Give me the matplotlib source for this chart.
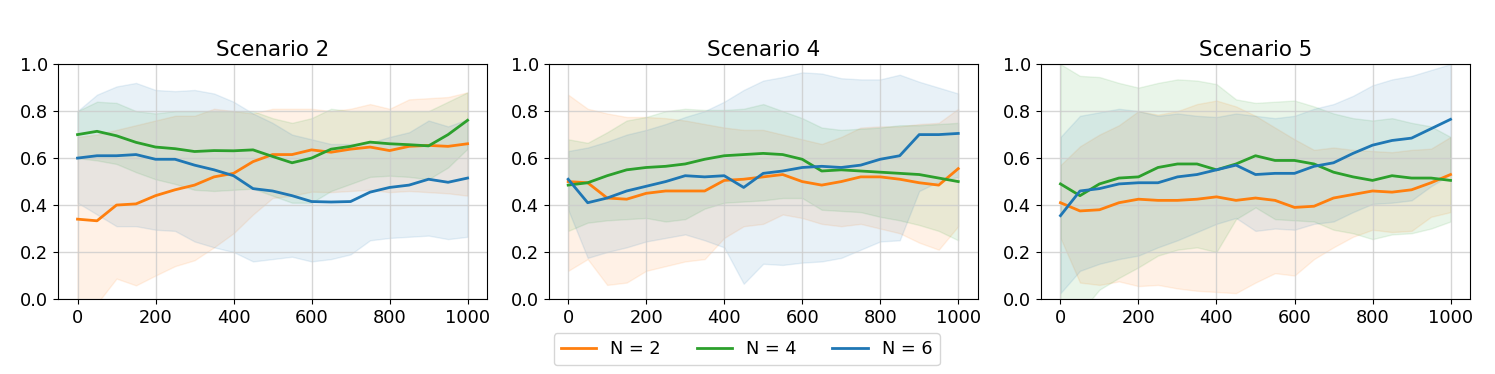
import matplotlib
matplotlib.use("Agg")
import matplotlib.pyplot as plt

steps = list(range(0, 1001, 50))

scenarios = ["Scenario 2", "Scenario 4", "Scenario 5"]
labels = ["N = 2", "N = 4", "N = 6"]
colors = ["#ff7f0e", "#2ca02c", "#1f77b4"]

# Scenario 2
s2_n2_mean = [0.34, 0.333, 0.40, 0.405, 0.44, 0.465, 0.485, 0.52, 0.535, 0.585, 0.615, 0.615, 0.635, 0.625, 0.638, 0.647, 0.632, 0.65, 0.654, 0.65, 0.661]
s2_n2_hi = [0.69, 0.70, 0.72, 0.74, 0.76, 0.78, 0.78, 0.81, 0.80, 0.79, 0.81, 0.81, 0.81, 0.80, 0.81, 0.83, 0.81, 0.85, 0.855, 0.86, 0.88]
s2_n2_lo = [-0.15, -0.02, 0.087, 0.058, 0.10, 0.14, 0.165, 0.22, 0.28, 0.36, 0.43, 0.44, 0.457, 0.455, 0.46, 0.465, 0.455, 0.46, 0.455, 0.45, 0.44]
s2_n4_mean = [0.70, 0.714, 0.695, 0.667, 0.647, 0.64, 0.628, 0.632, 0.631, 0.635, 0.607, 0.58, 0.60, 0.638, 0.65, 0.668, 0.661, 0.657, 0.652, 0.70, 0.761]
s2_n4_hi = [0.80, 0.84, 0.835, 0.80, 0.79, 0.80, 0.80, 0.80, 0.80, 0.80, 0.77, 0.75, 0.77, 0.81, 0.80, 0.80, 0.80, 0.80, 0.80, 0.84, 0.88]
s2_n4_lo = [0.60, 0.59, 0.575, 0.54, 0.51, 0.49, 0.465, 0.46, 0.465, 0.47, 0.44, 0.41, 0.41, 0.46, 0.49, 0.52, 0.525, 0.52, 0.51, 0.56, 0.64]
s2_n6_mean = [0.60, 0.61, 0.61, 0.615, 0.595, 0.595, 0.57, 0.55, 0.525, 0.47, 0.46, 0.44, 0.415, 0.413, 0.415, 0.455, 0.475, 0.485, 0.51, 0.497, 0.515]
s2_n6_hi = [0.80, 0.87, 0.905, 0.92, 0.89, 0.885, 0.89, 0.875, 0.84, 0.79, 0.75, 0.70, 0.68, 0.66, 0.66, 0.665, 0.69, 0.71, 0.76, 0.735, 0.765]
s2_n6_lo = [0.41, 0.36, 0.31, 0.31, 0.295, 0.29, 0.245, 0.22, 0.20, 0.16, 0.17, 0.18, 0.16, 0.17, 0.19, 0.25, 0.26, 0.265, 0.27, 0.255, 0.265]

# Scenario 4
s4_n2_mean = [0.50, 0.495, 0.43, 0.425, 0.45, 0.46, 0.46, 0.46, 0.505, 0.51, 0.52, 0.53, 0.50, 0.485, 0.50, 0.52, 0.52, 0.51, 0.495, 0.485, 0.555]
s4_n2_hi = [0.87, 0.81, 0.79, 0.775, 0.775, 0.77, 0.76, 0.745, 0.73, 0.72, 0.72, 0.70, 0.68, 0.66, 0.69, 0.73, 0.735, 0.735, 0.745, 0.75, 0.81]
s4_n2_lo = [0.12, 0.17, 0.06, 0.07, 0.12, 0.14, 0.16, 0.17, 0.26, 0.31, 0.32, 0.36, 0.345, 0.32, 0.31, 0.32, 0.30, 0.28, 0.24, 0.21, 0.31]
s4_n4_mean = [0.485, 0.495, 0.525, 0.55, 0.56, 0.565, 0.575, 0.595, 0.61, 0.615, 0.62, 0.615, 0.595, 0.545, 0.55, 0.545, 0.54, 0.535, 0.53, 0.515, 0.50]
s4_n4_hi = [0.68, 0.665, 0.71, 0.76, 0.775, 0.80, 0.81, 0.805, 0.805, 0.81, 0.83, 0.80, 0.77, 0.73, 0.72, 0.725, 0.73, 0.74, 0.74, 0.745, 0.75]
s4_n4_lo = [0.29, 0.325, 0.335, 0.34, 0.345, 0.33, 0.34, 0.385, 0.41, 0.415, 0.42, 0.43, 0.43, 0.38, 0.375, 0.37, 0.35, 0.335, 0.315, 0.29, 0.25]
s4_n6_mean = [0.51, 0.41, 0.43, 0.46, 0.48, 0.50, 0.525, 0.52, 0.525, 0.475, 0.535, 0.545, 0.56, 0.565, 0.56, 0.57, 0.595, 0.61, 0.70, 0.70, 0.705]
s4_n6_hi = [0.63, 0.645, 0.67, 0.70, 0.72, 0.745, 0.775, 0.80, 0.84, 0.89, 0.93, 0.945, 0.965, 0.96, 0.94, 0.935, 0.935, 0.955, 0.925, 0.90, 0.875]
s4_n6_lo = [0.38, 0.175, 0.20, 0.22, 0.245, 0.26, 0.275, 0.25, 0.22, 0.065, 0.15, 0.145, 0.155, 0.16, 0.175, 0.21, 0.245, 0.25, 0.46, 0.50, 0.52]

# Scenario 5
s5_n2_mean = [0.41, 0.375, 0.38, 0.41, 0.425, 0.42, 0.42, 0.425, 0.435, 0.42, 0.43, 0.42, 0.39, 0.395, 0.43, 0.445, 0.46, 0.455, 0.465, 0.495, 0.53]
s5_n2_hi = [0.57, 0.65, 0.70, 0.74, 0.80, 0.785, 0.80, 0.83, 0.845, 0.82, 0.78, 0.73, 0.68, 0.635, 0.645, 0.635, 0.63, 0.625, 0.635, 0.64, 0.69]
s5_n2_lo = [0.26, 0.07, 0.06, 0.075, 0.055, 0.06, 0.045, 0.035, 0.03, 0.025, 0.07, 0.11, 0.10, 0.17, 0.22, 0.265, 0.295, 0.285, 0.29, 0.35, 0.37]
s5_n4_mean = [0.49, 0.44, 0.49, 0.515, 0.52, 0.56, 0.575, 0.575, 0.55, 0.575, 0.61, 0.59, 0.59, 0.575, 0.54, 0.52, 0.505, 0.525, 0.515, 0.515, 0.505]
s5_n4_hi = [1.0, 0.95, 0.945, 0.92, 0.90, 0.92, 0.935, 0.93, 0.915, 0.85, 0.835, 0.84, 0.845, 0.82, 0.79, 0.77, 0.76, 0.77, 0.75, 0.735, 0.69]
s5_n4_lo = [-0.02, -0.06, 0.04, 0.09, 0.135, 0.185, 0.21, 0.22, 0.20, 0.34, 0.39, 0.34, 0.335, 0.33, 0.295, 0.28, 0.255, 0.275, 0.28, 0.30, 0.33]
s5_n6_mean = [0.355, 0.46, 0.47, 0.49, 0.495, 0.495, 0.52, 0.53, 0.55, 0.57, 0.53, 0.535, 0.535, 0.565, 0.58, 0.62, 0.655, 0.675, 0.685, 0.725, 0.765]
s5_n6_hi = [0.69, 0.78, 0.795, 0.81, 0.80, 0.78, 0.79, 0.78, 0.775, 0.79, 0.78, 0.77, 0.78, 0.81, 0.83, 0.865, 0.91, 0.935, 0.95, 0.975, 1.0]
s5_n6_lo = [0.025, 0.12, 0.15, 0.17, 0.185, 0.22, 0.25, 0.285, 0.32, 0.345, 0.29, 0.30, 0.295, 0.32, 0.33, 0.37, 0.405, 0.41, 0.42, 0.48, 0.53]

data = [
    [(s2_n2_mean, s2_n2_lo, s2_n2_hi), (s2_n4_mean, s2_n4_lo, s2_n4_hi), (s2_n6_mean, s2_n6_lo, s2_n6_hi)],
    [(s4_n2_mean, s4_n2_lo, s4_n2_hi), (s4_n4_mean, s4_n4_lo, s4_n4_hi), (s4_n6_mean, s4_n6_lo, s4_n6_hi)],
    [(s5_n2_mean, s5_n2_lo, s5_n2_hi), (s5_n4_mean, s5_n4_lo, s5_n4_hi), (s5_n6_mean, s5_n6_lo, s5_n6_hi)],
]

plt.rcParams["font.size"] = 12.8

fig = plt.figure(figsize=(14.95, 3.74), dpi=100)
lefts = [0.0388, 0.367, 0.6963]
axes = []
for i in range(3):
    ax = fig.add_axes([lefts[i], 0.2005, 0.287, 0.628])
    axes.append(ax)
    for j in range(3):
        mean, lo, hi = data[i][j]
        ax.fill_between(steps, lo, hi, color=colors[j], alpha=0.1)
        ax.plot(steps, mean, color=colors[j], linewidth=2, label=labels[j])
    ax.set_title(scenarios[i], fontsize=15.4)
    ax.set_ylim(0, 1)
    ax.set_xlim(-50, 1050)
    ax.set_xticks([0, 200, 400, 600, 800, 1000])
    ax.set_yticks([0.0, 0.2, 0.4, 0.6, 0.8, 1.0])
    ax.grid(True, color="#cccccc", linewidth=1, alpha=0.8)

handles, lbls = axes[1].get_legend_handles_labels()
fig.legend(handles, lbls, loc="center", bbox_to_anchor=(0.4995, 0.066), ncol=3,
           frameon=True, fontsize=12.8, columnspacing=2.0, handlelength=2.0)

fig.savefig("out.png", dpi=100)
